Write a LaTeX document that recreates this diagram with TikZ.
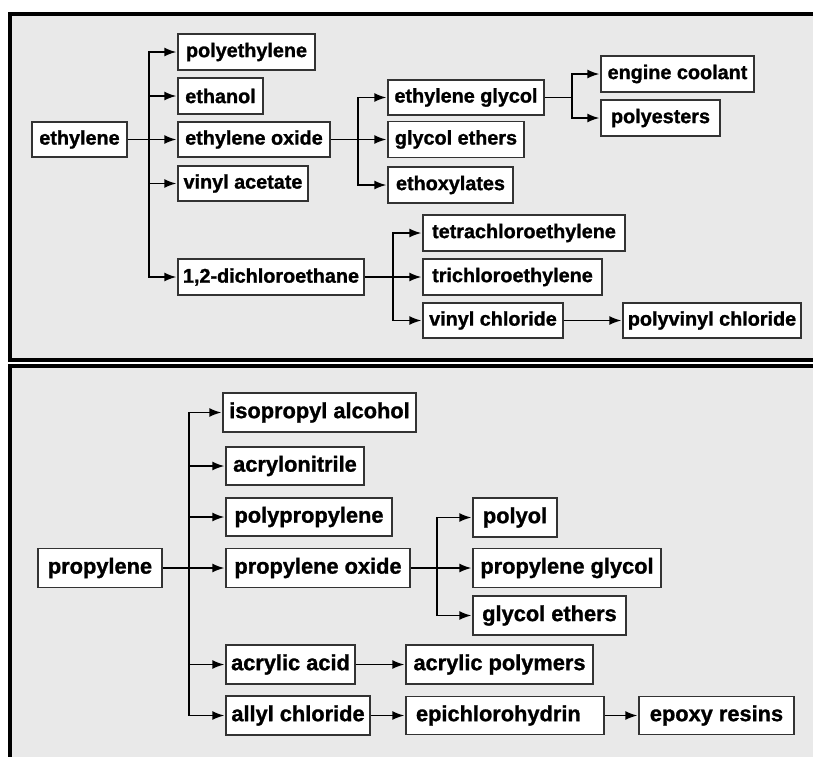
\documentclass[tikz,border=0pt]{standalone}
\usepackage{fontspec}
\setmainfont{Liberation Sans}
\newfontfamily\boxfont{Liberation Sans Bold}[FakeBold=1.2]
\usetikzlibrary{arrows.meta}
\definecolor{panel}{HTML}{E9E9E9}
\definecolor{edgegray}{HTML}{333333}
\begin{document}
\begin{tikzpicture}[x=1pt,y=-1pt,
  box/.style={draw=edgegray, line width=1.4pt, fill=white, inner sep=0pt,
    font=\boxfont\fontsize{19.8}{22}\selectfont},
  boxb/.style={box, font=\boxfont\fontsize{21.8}{24}\selectfont},
  conn/.style={draw=black, line width=1.5pt},
  arr/.style={conn, -{Latex[length=12pt,width=9pt]}, shorten >=1pt}]
\useasboundingbox (0,0) rectangle (813,756);
\begin{scope}
  \clip (0,0) rectangle (813,756);
  \draw[line width=4pt, fill=panel] (10,14) rectangle (840,360);
  \draw[line width=4pt, fill=panel] (10,366) rectangle (840,790);
\end{scope}

% ---------- top panel ----------
\node[box, minimum width=95pt,  minimum height=35pt] (eth)   at (79.5,139.5) {ethylene};
\node[box, minimum width=137pt, minimum height=36pt] (pe)    at (246.5,52)   {polyethylene};
\node[box, minimum width=85pt,  minimum height=36pt] (etoh)  at (220.5,96)   {ethanol};
\node[box, minimum width=152pt, minimum height=35pt] (eo)    at (254,139.5)  {ethylene oxide};
\node[box, minimum width=130pt, minimum height=35pt] (va)    at (243,183.5)  {vinyl acetate};
\node[box, minimum width=186pt, minimum height=36pt] (dce)   at (271,277)    {1,2-dichloroethane};
\node[box, minimum width=156pt, minimum height=35pt] (eg)    at (466,97.5)   {ethylene glycol};
\node[box, minimum width=136pt, minimum height=36pt] (ge1)   at (456,139.5)  {glycol ethers};
\node[box, minimum width=125pt, minimum height=36pt] (ethox) at (450.5,185)  {ethoxylates};
\node[box, minimum width=153pt, minimum height=36pt] (ec)    at (677.5,74)   {engine coolant};
\node[box, minimum width=119pt, minimum height=36pt] (pes)   at (660.5,118)  {polyesters};
\node[box, minimum width=202pt, minimum height=36pt] (tce4)  at (524,233)    {tetrachloroethylene};
\node[box, minimum width=179pt, minimum height=36pt] (tce3)  at (512.5,277)  {trichloroethylene};
\node[box, minimum width=140pt, minimum height=35pt] (vc)    at (493,320.5)  {vinyl chloride};
\node[box, minimum width=178pt, minimum height=35pt] (pvc)   at (712,320.5)  {polyvinyl chloride};

\coordinate (j1) at (149,139.5);
\coordinate (j2) at (358,139.5);
\coordinate (j3) at (572,97.5);
\coordinate (j4) at (393,277);

\draw[conn] (eth.east) -- (j1);
\draw[arr] (j1) |- (pe.west);
\draw[arr] (j1) |- (etoh.west);
\draw[arr] (j1) -- (eo.west);
\draw[arr] (j1) |- (va.west);
\draw[arr] (j1) |- (dce.west);

\draw[conn] (eo.east) -- (j2);
\draw[arr] (j2) |- (eg.west);
\draw[arr] (j2) -- (ge1.west);
\draw[arr] (j2) |- (ethox.west);

\draw[conn] (eg.east) -- (j3);
\draw[arr] (j3) |- (ec.west);
\draw[arr] (j3) |- (pes.west);

\draw[conn] (dce.east) -- (j4);
\draw[arr] (j4) |- (tce4.west);
\draw[arr] (j4) -- (tce3.west);
\draw[arr] (j4) |- (vc.west);
\draw[arr] (vc.east) -- (pvc.west);

% ---------- bottom panel ----------
\node[boxb, minimum width=124pt, minimum height=39pt] (prop)  at (100,568)    {propylene};
\node[boxb, minimum width=193pt, minimum height=39pt] (ipa)   at (319.5,412.5){isopropyl alcohol};
\node[boxb, minimum width=138pt, minimum height=38pt] (acn)   at (295,466)    {acrylonitrile};
\node[boxb, minimum width=166pt, minimum height=38pt] (pp)    at (309,517)    {polypropylene};
\node[boxb, minimum width=184pt, minimum height=39pt] (po)    at (318,568)    {propylene oxide};
\node[boxb, minimum width=129pt, minimum height=39pt] (aa)    at (290.5,664.5){acrylic acid};
\node[boxb, minimum width=144pt, minimum height=39pt] (ac)    at (298,715.5)  {allyl chloride};
\node[boxb, minimum width=84pt,  minimum height=39pt] (pol)   at (515,517.5)  {polyol};
\node[boxb, minimum width=188pt, minimum height=39pt] (pg)    at (567,568)    {propylene glycol};
\node[boxb, minimum width=153pt, minimum height=39pt] (ge2)   at (549.5,615.5){glycol ethers};
\node[boxb, minimum width=187pt, minimum height=39pt] (ap)    at (499.5,664.5){acrylic polymers};
\node[boxb, minimum width=198pt, minimum height=38pt, text width=178pt, align=left] (ech) at (505,715.5) {epichlorohydrin};
\node[boxb, minimum width=155pt, minimum height=38pt] (er)    at (716.5,715.5){epoxy resins};

\coordinate (k1) at (189,568);
\coordinate (k2) at (437,568);

\draw[conn] (prop.east) -- (k1);
\draw[arr] (k1) |- (ipa.west);
\draw[arr] (k1) |- (acn.west);
\draw[arr] (k1) |- (pp.west);
\draw[arr] (k1) -- (po.west);
\draw[arr] (k1) |- (aa.west);
\draw[arr] (k1) |- (ac.west);

\draw[conn] (po.east) -- (k2);
\draw[arr] (k2) |- (pol.west);
\draw[arr] (k2) -- (pg.west);
\draw[arr] (k2) |- (ge2.west);

\draw[arr] (aa.east) -- (ap.west);
\draw[arr] (ac.east) -- (ech.west);
\draw[arr] (ech.east) -- (er.west);
\end{tikzpicture}
\end{document}
